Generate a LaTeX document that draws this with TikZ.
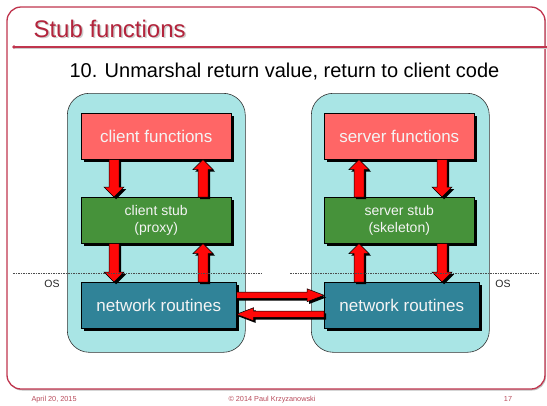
\documentclass[tikz,border=0pt]{standalone}
\usepackage{fontspec}
\setmainfont{Liberation Sans}
\usetikzlibrary{calc,shadows}
\definecolor{pinkf}{HTML}{FF6666}
\definecolor{greenf}{HTML}{46923A}
\definecolor{netf}{HTML}{308398}
\definecolor{cyanf}{HTML}{A9E5E5}
\definecolor{titlered}{HTML}{B3243C}
\definecolor{framered}{HTML}{C0354E}
\definecolor{footred}{HTML}{B84A5A}
\definecolor{arrred}{HTML}{FF0808}
\definecolor{boxtext}{HTML}{F4F4F4}
\tikzset{
  boxshadow/.style={drop shadow={shadow xshift=3pt, shadow yshift=-3pt, fill=black, opacity=1}},
  basebox/.style={draw=black, line width=0.5pt, boxshadow, anchor=north west, inner sep=0pt,
    text=boxtext, align=center},
  funcbox/.style={basebox, fill=pinkf, minimum width=150pt, minimum height=46pt,
    font=\fontsize{17}{20}\selectfont},
  stubbox/.style={basebox, fill=greenf, minimum width=150pt, minimum height=46pt,
    font=\fontsize{14}{17}\selectfont},
  netbox/.style={basebox, fill=netf, minimum width=155pt, minimum height=46pt,
    font=\fontsize{17}{20}\selectfont},
  hostbox/.style={draw=black!80, line width=0.6pt, fill=cyanf, rounded corners=22pt,
    anchor=north west, minimum width=178pt, minimum height=259pt, inner sep=0pt},
  arrowst/.style={fill=arrred, draw=black, line width=0.5pt,
    drop shadow={shadow xshift=2.2pt, shadow yshift=-2.2pt, fill=black, opacity=1}},
  osline/.style={draw=black!70, line width=0.7pt, dash pattern=on 1.5pt off 1pt},
  oslabel/.style={font=\fontsize{10.5}{12}\selectfont, text=black!85},
  foot/.style={font=\fontsize{7.3}{9}\selectfont, text=footred},
}
\newcommand\blockarr[5]{%
  \filldraw[arrowst] let \p1=(#1), \p2=(#2),
     \n1={veclen(\x2-\x1,\y2-\y1)}, \n2={(\x2-\x1)/\n1}, \n3={(\y2-\y1)/\n1} in
     ({\x1-#3pt*\n3},{\y1+#3pt*\n2}) --
     ({\x2-#5pt*\n2-#3pt*\n3},{\y2-#5pt*\n3+#3pt*\n2}) --
     ({\x2-#5pt*\n2-#4pt*\n3},{\y2-#5pt*\n3+#4pt*\n2}) --
     (\p2) --
     ({\x2-#5pt*\n2+#4pt*\n3},{\y2-#5pt*\n3-#4pt*\n2}) --
     ({\x2-#5pt*\n2+#3pt*\n3},{\y2-#5pt*\n3-#3pt*\n2}) --
     ({\x1+#3pt*\n3},{\y1-#3pt*\n2}) -- cycle;}
\begin{document}
\begin{tikzpicture}[x=1pt,y=-1pt]
\useasboundingbox (0,0) rectangle (547,405);
% slide frame
\draw[framered, line width=1.3pt, rounded corners=14pt,
  drop shadow={shadow xshift=1pt, shadow yshift=-1.5pt, fill=black!25, opacity=1}, fill=white]
  (7,7) rectangle (545,389);
\draw[black!20, line width=1.3pt] (15,48.5) -- (547,48.5);
\draw[framered, line width=1.3pt] (14,47) -- (547,47);
\fill[framered] (14,47) circle (1.9pt);
% title
\node[anchor=base west, text=black!20, font=\fontsize{24}{28}\selectfont] (titleshadow) at (31.5,38.5) {Stub functions};
\node[anchor=base west, text=titlered, font=\fontsize{24}{28}\selectfont] (title) at (30,37) {Stub functions};
\node[anchor=base west, font=\fontsize{20}{24}\selectfont] (sub) at (66,77) {10. Unmarshal return value, return to client code};
% hosts
\node[hostbox] (lhost) at (67,93) {};
\node[hostbox] (rhost) at (311,93) {};
% client side
\node[funcbox] (cf) at (81,113) {client functions};
\node[stubbox] (cs) at (81,197) {client stub\\(proxy)};
\node[netbox] (cn) at (81,282) {network routines};
% server side
\node[funcbox] (sf) at (324,113) {server functions};
\node[stubbox] (ss) at (324,197) {server stub\\(skeleton)};
\node[netbox] (sn) at (324,282) {network routines};
% arrow columns
\coordinate (xa) at (114,0);
\coordinate (xb) at (203,0);
\coordinate (xc) at (359,0);
\coordinate (xd) at (442,0);
\blockarr{cf.south -| xa}{cs.north -| xa}{5}{10}{10}
\blockarr{cs.north -| xb}{cf.south -| xb}{5}{10}{10}
\blockarr{cs.south -| xa}{cn.north -| xa}{5}{10}{10}
\blockarr{cn.north -| xb}{cs.south -| xb}{5}{10}{10}
\blockarr{ss.north -| xc}{sf.south -| xc}{5}{10}{10}
\blockarr{sf.south -| xd}{ss.north -| xd}{5}{10}{10}
\blockarr{sn.north -| xc}{ss.south -| xc}{5}{10}{10}
\blockarr{ss.south -| xd}{sn.north -| xd}{5}{10}{10}
% network arrows
\coordinate (h1) at ($(cn.east)+(0,-10)$);
\coordinate (h2) at ($(sn.west)+(0,9)$);
\blockarr{h1}{sn.west |- h1}{3.2}{6.5}{17}
\blockarr{h2}{cn.east |- h2}{3.2}{6.5}{17}
% OS boundary
\draw[osline] (13,273) -- (263,273);
\draw[osline] (290,273) -- (540,273);
\node[oslabel] (osl) at (52,284) {OS};
\node[oslabel] (osr) at (503,284) {OS};
% footer
\node[foot, anchor=base west] (date) at (28,401) {April 20, 2015};
\node[foot, anchor=base] (copy) at (272,401) {© 2014 Paul Krzyzanowski};
\node[foot, anchor=base] (page) at (508,401) {17};
\end{tikzpicture}
\end{document}
